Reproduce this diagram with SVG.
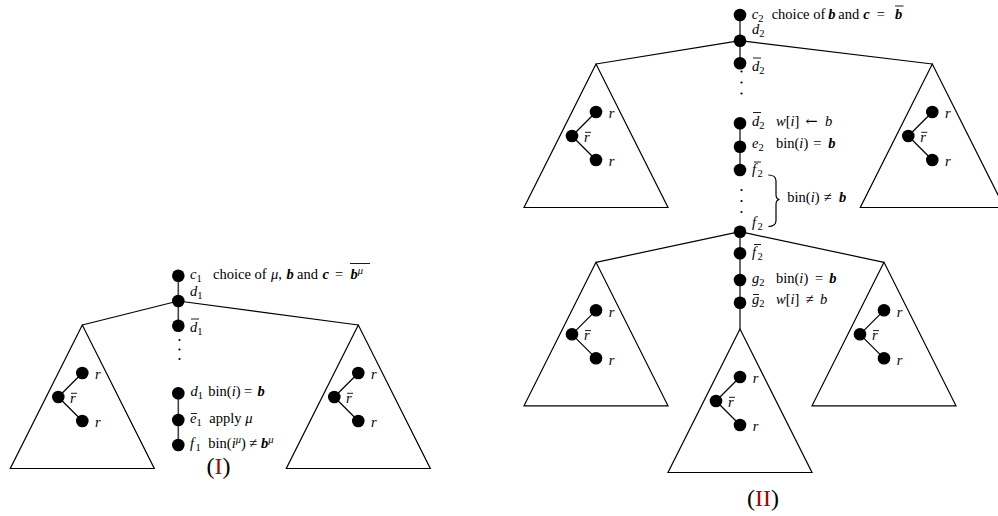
<svg xmlns="http://www.w3.org/2000/svg" width="998" height="516" viewBox="0 0 998 516">
<style>
.t{font-family:"Liberation Serif","Times New Roman",serif;font-size:14.5px;fill:#000}
.i{font-style:italic}
.bi{font-style:italic;font-weight:bold}
.s{font-size:10.5px}
.ar{font-family:"DejaVu Serif",serif;font-size:14.5px}
.tri{fill:none;stroke:#000;stroke-width:1.2;stroke-linejoin:miter}
.edge{stroke:#000;stroke-width:1.2;fill:none}
.spine{stroke:#444;stroke-width:1.6}
.dot{fill:#000}
.vd{fill:#000}
.bar{stroke:#000;stroke-width:0.9}
.lab{font-family:"Liberation Serif","Times New Roman",serif;font-size:24px;fill:#000}
.red{fill:#b00000}
</style>
<rect width="998" height="516" fill="#fff"/>

<g id="connectors">
  <line class="spine" x1="178.3" y1="275.7" x2="178.3" y2="325.7"/>
  <line class="spine" x1="178.3" y1="393.3" x2="178.3" y2="445"/>
  <line class="edge" x1="178.3" y1="301" x2="82.3" y2="325"/>
  <line class="edge" x1="178.3" y1="301" x2="358.3" y2="325"/>
  <line class="spine" x1="740" y1="15" x2="740" y2="63.3"/>
  <line class="spine" x1="740" y1="123.3" x2="740" y2="170"/>
  <line class="spine" x1="740" y1="231.7" x2="740" y2="329"/>
  <line class="edge" x1="740" y1="40.7" x2="596" y2="64"/>
  <line class="edge" x1="740" y1="40.7" x2="932.3" y2="64"/>
  <line class="edge" x1="740" y1="231.7" x2="596" y2="262.3"/>
  <line class="edge" x1="740" y1="231.7" x2="884" y2="262.3"/>
  <circle class="vd" cx="179.5" cy="340" r="1.1"/>
  <circle class="vd" cx="179.5" cy="349.5" r="1.1"/>
  <circle class="vd" cx="179.5" cy="359" r="1.1"/>
  <circle class="vd" cx="741.5" cy="71.5" r="1.1"/>
  <circle class="vd" cx="741.5" cy="82.5" r="1.1"/>
  <circle class="vd" cx="741.5" cy="93.5" r="1.1"/>
  <circle class="vd" cx="741.5" cy="190" r="1.1"/>
  <circle class="vd" cx="741.5" cy="201" r="1.1"/>
  <circle class="vd" cx="741.5" cy="212" r="1.1"/>
  <path class="edge" stroke-width="1" d="M768.3,175 C773,175 776,177 776,181 L776,194.5 C776,197.5 777.5,199.3 779.5,199.5 C777.5,199.7 776,201.5 776,204.5 L776,220.5 C776,224.5 773,226.5 768.3,226.5"/>
</g>

<!-- Diagram I spine nodes -->
<g id="c1">
  <circle class="dot" cx="178.3" cy="275.7" r="6.3"/>
  <text class="t" y="278.5"><tspan x="190" class="i">c</tspan><tspan class="s" dy="3">1</tspan><tspan x="213" dy="-3">choice of</tspan><tspan x="271" class="i">μ</tspan><tspan>,</tspan><tspan x="286.5" class="bi">b</tspan><tspan x="297">and</tspan><tspan x="322.5" class="bi">c</tspan><tspan x="335">=</tspan><tspan x="350.5" class="bi">b</tspan><tspan class="s i" dy="-5">μ</tspan></text>
  <line class="bar" x1="350" y1="263.5" x2="370" y2="263.5"/>
</g>
<g id="d1">
  <circle class="dot" cx="178.3" cy="301" r="6.3"/>
  <text class="t" x="190" y="296"><tspan class="i">d</tspan><tspan class="s" dy="3">1</tspan></text>
</g>
<g id="d1bar">
  <circle class="dot" cx="178.3" cy="325.7" r="6.3"/>
  <text class="t" x="190" y="332"><tspan class="i">d</tspan><tspan class="s" dy="3">1</tspan></text>
  <line class="bar" x1="191" y1="319" x2="199" y2="319"/>
</g>
<g id="d1b">
  <circle class="dot" cx="178.3" cy="393.3" r="6.3"/>
  <text class="t" y="396"><tspan x="190.5" class="i">d</tspan><tspan class="s" dy="3">1</tspan><tspan x="208.3" dy="-3">bin(</tspan><tspan class="i">i</tspan><tspan>)</tspan><tspan x="244">=</tspan><tspan x="257.5" class="bi">b</tspan></text>
</g>
<g id="e1bar">
  <circle class="dot" cx="178.3" cy="420" r="6.3"/>
  <text class="t" y="422.5"><tspan x="190" class="i">e</tspan><tspan class="s" dy="3">1</tspan><tspan x="209.3" dy="-3">apply </tspan><tspan class="i">μ</tspan></text>
  <line class="bar" x1="191" y1="413.5" x2="197" y2="413.5"/>
</g>
<g id="f1">
  <circle class="dot" cx="178.3" cy="445" r="6.3"/>
  <text class="t" y="447.5"><tspan x="190" class="i">f</tspan><tspan class="s" dx="1.5" dy="3">1</tspan><tspan x="208.3" dy="-3">bin(</tspan><tspan class="i">i</tspan><tspan class="s i" dy="-5">μ</tspan><tspan dy="5">) ≠ </tspan><tspan class="bi">b</tspan><tspan class="s i" dy="-5">μ</tspan></text>
</g>

<!-- Diagram I subtrees -->
<g id="triI_left">
  <polygon class="tri" points="82.3,325 10.3,468.5 154.3,468.5"/>
  <line class="edge" x1="58.3" y1="397" x2="82.3" y2="373"/>
  <line class="edge" x1="58.3" y1="397" x2="82.3" y2="421"/>
  <circle class="dot" cx="82.3" cy="373" r="6.3"/>
  <circle class="dot" cx="58.3" cy="397" r="6.3"/>
  <circle class="dot" cx="82.3" cy="421" r="6.3"/>
  <text class="t i" x="95" y="379">r</text>
  <text class="t i" x="95" y="427">r</text>
  <text class="t i" x="70" y="403">r</text>
  <line class="bar" x1="71" y1="393.3" x2="77" y2="393.3"/>
</g>
<g id="triI_right">
  <polygon class="tri" points="358.3,325 286.3,468.5 430.3,468.5"/>
  <line class="edge" x1="334.3" y1="397" x2="358.3" y2="373"/>
  <line class="edge" x1="334.3" y1="397" x2="358.3" y2="421"/>
  <circle class="dot" cx="358.3" cy="373" r="6.3"/>
  <circle class="dot" cx="334.3" cy="397" r="6.3"/>
  <circle class="dot" cx="358.3" cy="421" r="6.3"/>
  <text class="t i" x="371" y="379">r</text>
  <text class="t i" x="371" y="427">r</text>
  <text class="t i" x="346" y="403">r</text>
  <line class="bar" x1="347" y1="393.3" x2="353" y2="393.3"/>
</g>
<text class="lab" x="218.5" y="474" text-anchor="middle">(<tspan class="red">I</tspan>)</text>

<!-- Diagram II spine nodes -->
<g id="c2">
  <circle class="dot" cx="740" cy="15" r="6.3"/>
  <text class="t" y="19"><tspan x="751.7" class="i">c</tspan><tspan class="s" dy="3">2</tspan><tspan x="771.7" dy="-3">choice of</tspan><tspan x="828.3" class="bi">b</tspan><tspan x="838.3">and</tspan><tspan x="863.3" class="bi">c</tspan><tspan x="876.7">=</tspan><tspan x="895" class="bi">b</tspan></text>
  <line class="bar" x1="895" y1="6" x2="903.5" y2="6"/>
</g>
<g id="d2">
  <circle class="dot" cx="740" cy="40.7" r="6.3"/>
  <text class="t" x="752" y="33.5"><tspan class="i">d</tspan><tspan class="s" dy="3">2</tspan></text>
</g>
<g id="d2bar">
  <circle class="dot" cx="740" cy="63.3" r="6.3"/>
  <text class="t" x="752" y="71"><tspan class="i">d</tspan><tspan class="s" dy="3">2</tspan></text>
  <line class="bar" x1="753" y1="58" x2="761" y2="58"/>
</g>
<g id="d2bar_b">
  <circle class="dot" cx="740" cy="123.3" r="6.3"/>
  <text class="t" y="125.5"><tspan x="752" class="i">d</tspan><tspan class="s" dy="3">2</tspan><tspan x="776" dy="-3" class="i">w</tspan><tspan>[</tspan><tspan class="i">i</tspan><tspan>]</tspan><tspan x="805.5" class="ar">←</tspan><tspan x="825" class="i">b</tspan></text>
  <line class="bar" x1="753" y1="112.5" x2="761" y2="112.5"/>
</g>
<g id="e2">
  <circle class="dot" cx="740" cy="146.7" r="6.3"/>
  <text class="t" y="148"><tspan x="752" class="i">e</tspan><tspan class="s" dy="3">2</tspan><tspan x="776" dy="-3">bin(</tspan><tspan class="i">i</tspan><tspan>)</tspan><tspan x="813.3">=</tspan><tspan x="828.3" class="bi">b</tspan></text>
</g>
<g id="f2bar">
  <circle class="dot" cx="740" cy="170" r="6.3"/>
  <text class="t" x="752" y="173.5"><tspan class="i">f</tspan><tspan class="s" dx="1.5" dy="3">2</tspan></text>
  <line class="bar" x1="754" y1="162" x2="761" y2="162"/>
</g>
<text class="t" y="202"><tspan x="787.3">bin(</tspan><tspan class="i">i</tspan><tspan>)</tspan><tspan x="824">≠</tspan><tspan x="839" class="bi">b</tspan></text>
<g id="f2">
  <circle class="dot" cx="740" cy="231.7" r="6.3"/>
  <text class="t" x="752" y="226.5"><tspan class="i">f</tspan><tspan class="s" dx="1.5" dy="3">2</tspan></text>
</g>
<g id="f2bar_b">
  <circle class="dot" cx="740" cy="253.3" r="6.3"/>
  <text class="t" x="752" y="257"><tspan class="i">f</tspan><tspan class="s" dx="1.5" dy="3">2</tspan></text>
  <line class="bar" x1="754" y1="244.5" x2="761" y2="244.5"/>
</g>
<g id="g2">
  <circle class="dot" cx="740" cy="280" r="6.3"/>
  <text class="t" y="283"><tspan x="752" class="i">g</tspan><tspan class="s" dy="3">2</tspan><tspan x="776" dy="-3">bin(</tspan><tspan class="i">i</tspan><tspan>)</tspan><tspan x="815">=</tspan><tspan x="829.3" class="bi">b</tspan></text>
</g>
<g id="g2bar">
  <circle class="dot" cx="740" cy="302.7" r="6.3"/>
  <text class="t" y="304"><tspan x="752" class="i">g</tspan><tspan class="s" dy="3">2</tspan><tspan x="776" dy="-3" class="i">w</tspan><tspan>[</tspan><tspan class="i">i</tspan><tspan>]</tspan><tspan x="806">≠</tspan><tspan x="820" class="i">b</tspan></text>
  <line class="bar" x1="753" y1="294.5" x2="759" y2="294.5"/>
</g>

<!-- Diagram II subtrees -->
<g id="triII_ul">
  <polygon class="tri" points="596,64 524,207.5 668,207.5"/>
  <line class="edge" x1="572" y1="136" x2="596" y2="112"/>
  <line class="edge" x1="572" y1="136" x2="596" y2="160"/>
  <circle class="dot" cx="596" cy="112" r="6.3"/>
  <circle class="dot" cx="572" cy="136" r="6.3"/>
  <circle class="dot" cx="596" cy="160" r="6.3"/>
  <text class="t i" x="608.7" y="118.3">r</text>
  <text class="t i" x="608.7" y="166.3">r</text>
  <text class="t i" x="584" y="142">r</text>
  <line class="bar" x1="585" y1="132.3" x2="591" y2="132.3"/>
</g>
<g id="triII_ur">
  <polygon class="tri" points="932.3,64 860.3,207.5 1004.3,207.5"/>
  <line class="edge" x1="908.3" y1="136" x2="932.3" y2="112"/>
  <line class="edge" x1="908.3" y1="136" x2="932.3" y2="160"/>
  <circle class="dot" cx="932.3" cy="112" r="6.3"/>
  <circle class="dot" cx="908.3" cy="136" r="6.3"/>
  <circle class="dot" cx="932.3" cy="160" r="6.3"/>
  <text class="t i" x="945" y="118.3">r</text>
  <text class="t i" x="945" y="166.3">r</text>
  <text class="t i" x="920.3" y="142">r</text>
  <line class="bar" x1="921.3" y1="132.3" x2="927.3" y2="132.3"/>
</g>
<g id="triII_ll">
  <polygon class="tri" points="596,262.3 524,405.8 668,405.8"/>
  <line class="edge" x1="572" y1="334.3" x2="596" y2="310.3"/>
  <line class="edge" x1="572" y1="334.3" x2="596" y2="358.3"/>
  <circle class="dot" cx="596" cy="310.3" r="6.3"/>
  <circle class="dot" cx="572" cy="334.3" r="6.3"/>
  <circle class="dot" cx="596" cy="358.3" r="6.3"/>
  <text class="t i" x="608.7" y="316.6">r</text>
  <text class="t i" x="608.7" y="364.6">r</text>
  <text class="t i" x="584" y="340.3">r</text>
  <line class="bar" x1="585" y1="330.6" x2="591" y2="330.6"/>
</g>
<g id="triII_lr">
  <polygon class="tri" points="884,262.3 812,405.8 956,405.8"/>
  <line class="edge" x1="860" y1="334.3" x2="884" y2="310.3"/>
  <line class="edge" x1="860" y1="334.3" x2="884" y2="358.3"/>
  <circle class="dot" cx="884" cy="310.3" r="6.3"/>
  <circle class="dot" cx="860" cy="334.3" r="6.3"/>
  <circle class="dot" cx="884" cy="358.3" r="6.3"/>
  <text class="t i" x="896.7" y="316.6">r</text>
  <text class="t i" x="896.7" y="364.6">r</text>
  <text class="t i" x="872" y="340.3">r</text>
  <line class="bar" x1="873" y1="330.6" x2="879" y2="330.6"/>
</g>
<g id="triII_bottom">
  <polygon class="tri" points="740,329 668,472.5 812,472.5"/>
  <line class="edge" x1="716" y1="401" x2="740" y2="377"/>
  <line class="edge" x1="716" y1="401" x2="740" y2="425"/>
  <circle class="dot" cx="740" cy="377" r="6.3"/>
  <circle class="dot" cx="716" cy="401" r="6.3"/>
  <circle class="dot" cx="740" cy="425" r="6.3"/>
  <text class="t i" x="752.7" y="383.3">r</text>
  <text class="t i" x="752.7" y="431.3">r</text>
  <text class="t i" x="728" y="407">r</text>
  <line class="bar" x1="729" y1="397.3" x2="735" y2="397.3"/>
</g>
<text class="lab" x="763" y="506" text-anchor="middle">(<tspan class="red">II</tspan>)</text>
</svg>
